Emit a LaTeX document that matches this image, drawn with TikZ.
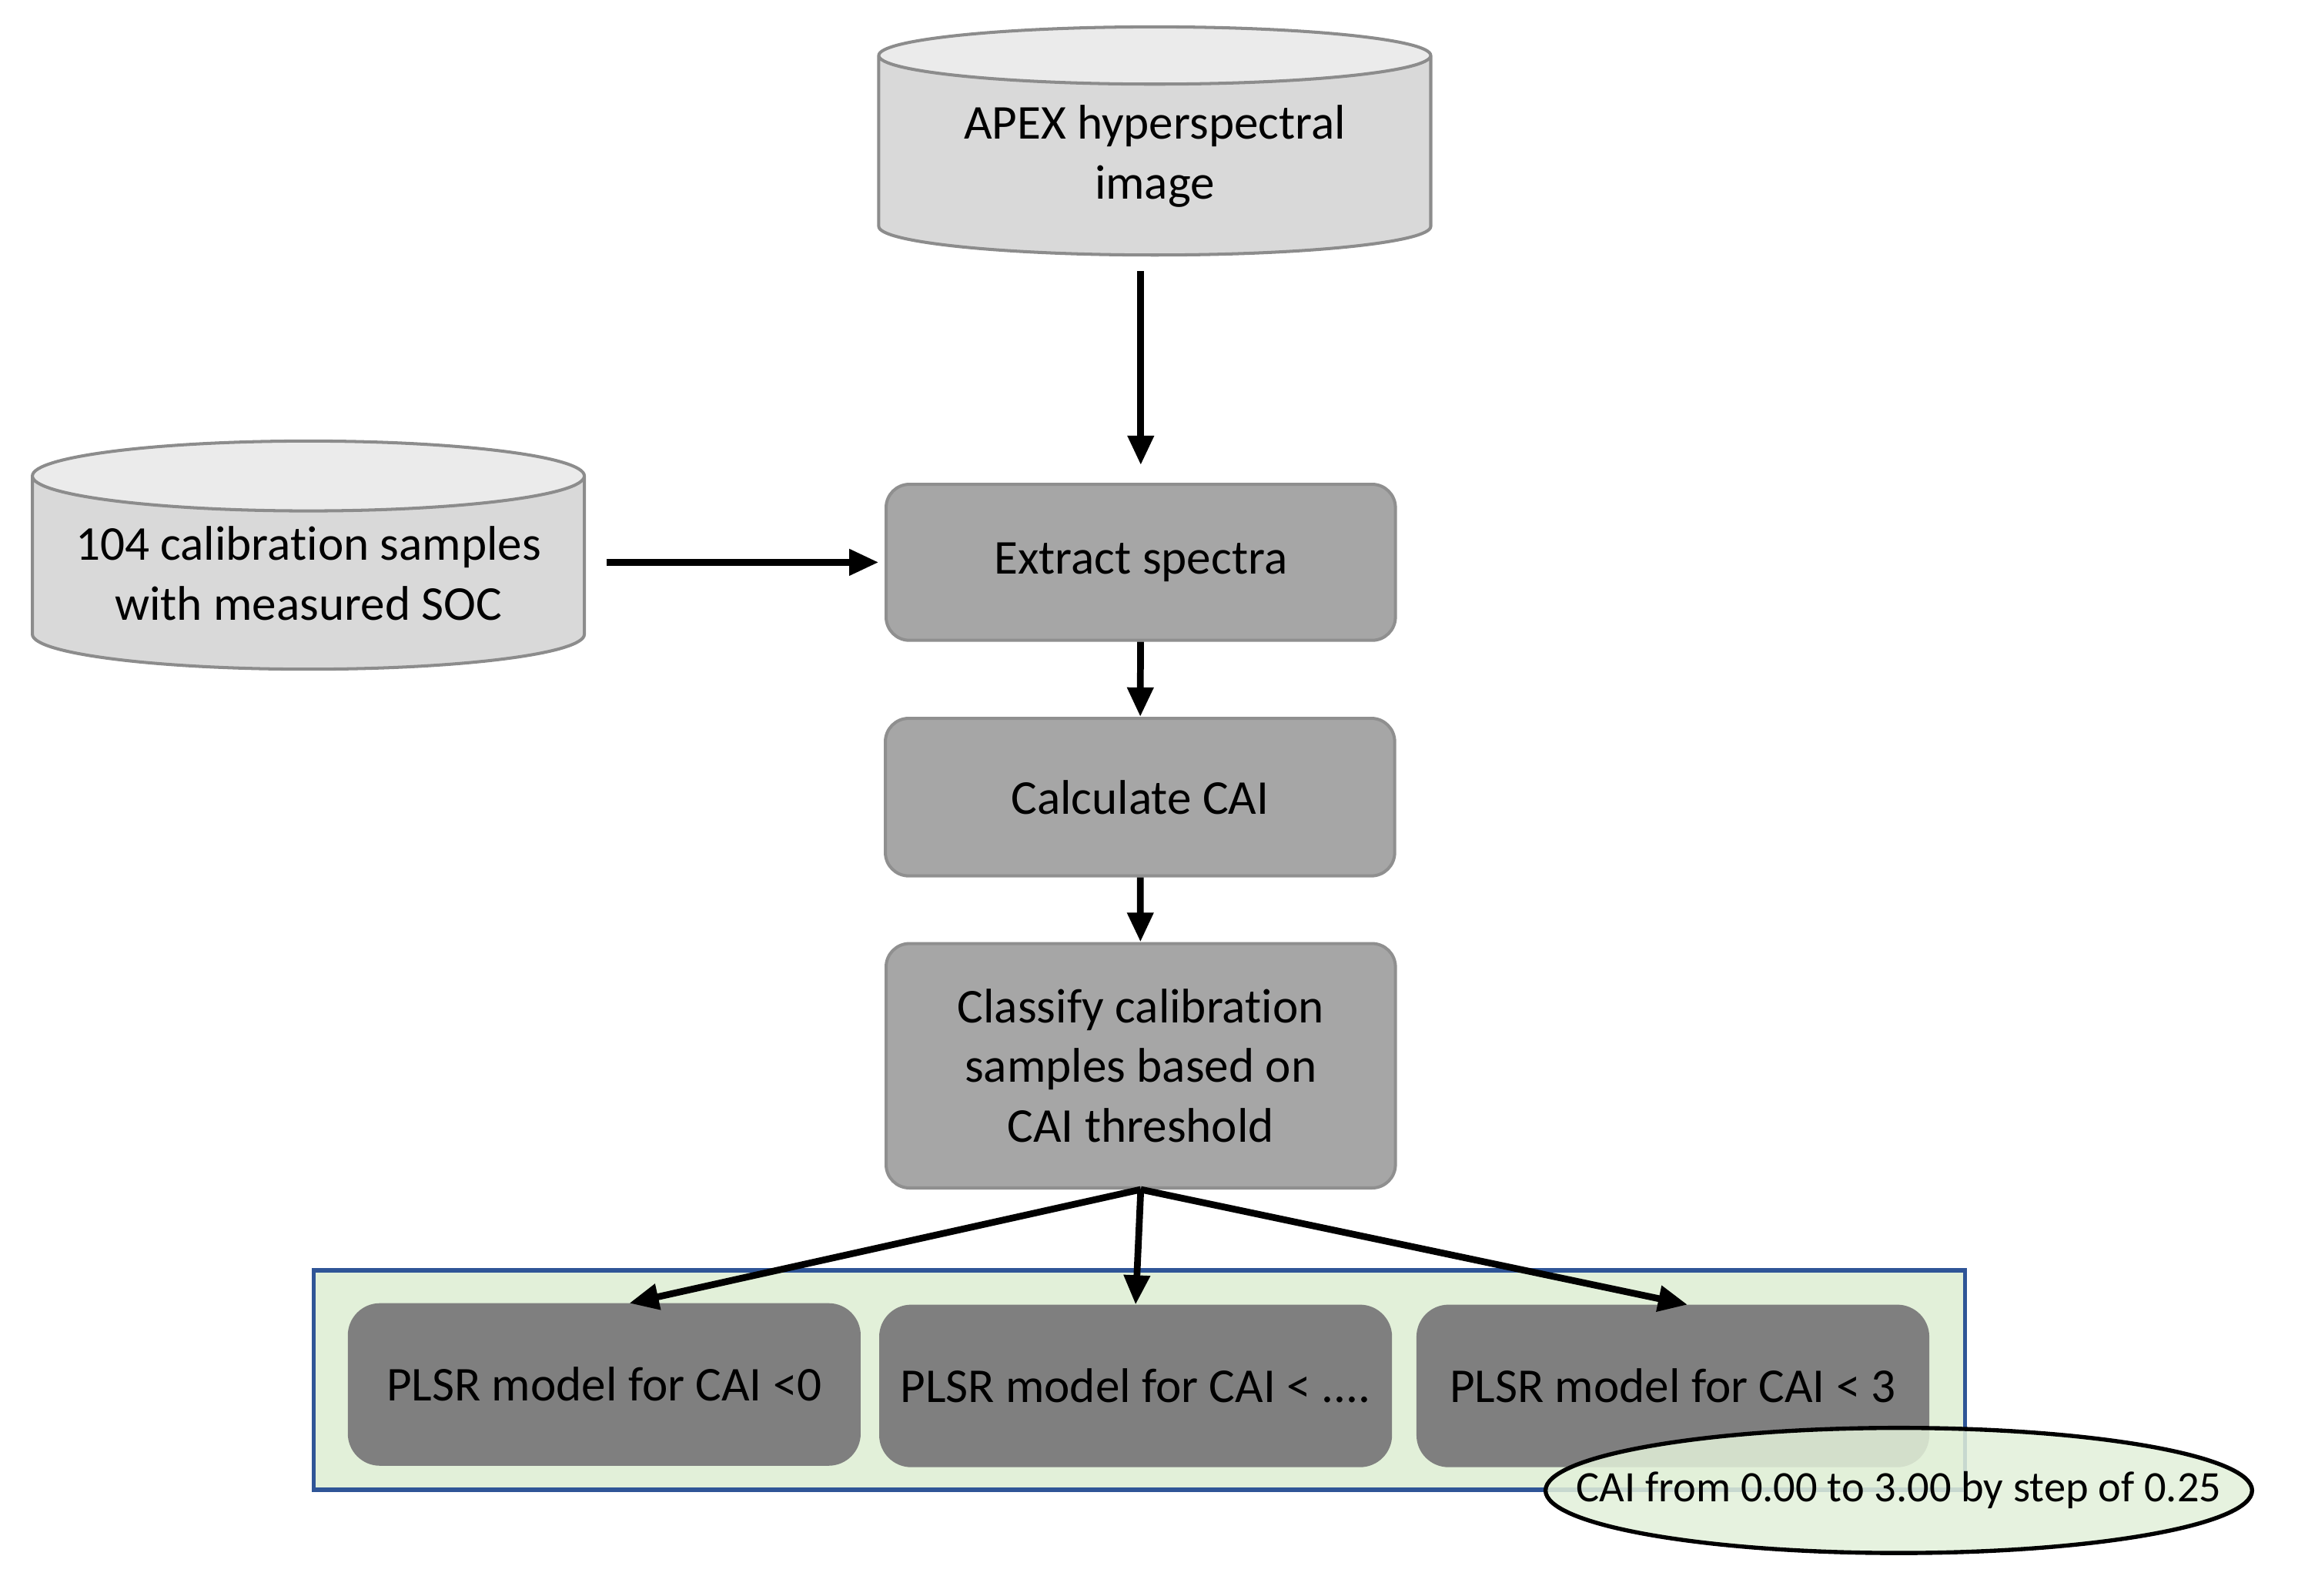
\documentclass[tikz,border=0pt]{standalone}
\usepackage{fontspec}
\setmainfont{Carlito}[Ligatures=NoCommon]
\usepackage{tikz}
\usetikzlibrary{arrows.meta,positioning,shapes.geometric}
\definecolor{cylbody}{RGB}{217,217,217}
\definecolor{cyltop}{RGB}{235,235,235}
\definecolor{cyledge}{RGB}{140,140,140}
\definecolor{boxlight}{RGB}{166,166,166}
\definecolor{boxdark}{RGB}{127,127,127}
\definecolor{edgegray}{RGB}{143,143,143}
\definecolor{palegreen}{RGB}{226,240,217}
\definecolor{frameblue}{RGB}{47,85,151}

\begin{document}
\begin{tikzpicture}[
  every node/.style={font=\fontsize{9.4}{11.6}\selectfont, align=center},
  datacyl/.style={cylinder, shape border rotate=90, aspect=0.15,
               draw=cyledge, line width=0.6pt,
               cylinder uses custom fill, cylinder body fill=cylbody, cylinder end fill=cyltop,
               minimum width=3.75cm, minimum height=1.55cm, inner sep=0pt},
  stepbox/.style={rounded corners=4.5pt, draw=edgegray, fill=boxlight, line width=0.6pt,
               minimum width=3.46cm, minimum height=1.06cm},
  modelbox/.style={rounded corners=6pt, draw=boxdark, fill=boxdark,
               minimum width=3.47cm, minimum height=1.09cm},
  arr/.style={-{Triangle[length=2mm, width=1.7mm]}, line width=1.3pt, black}]
\useasboundingbox (0,0) rectangle (15.68,-10.842);
\node[datacyl] (apex) at (7.845,-1.06) {APEX hyperspectral\\image};
\node[datacyl] (samples) at (2.095,-3.895) {104 calibration samples\\with measured SOC};
\node[stepbox] (extract) at (7.75,-3.82) {Extract spectra};
\node[stepbox, minimum height=1.07cm] (calc) at (7.745,-5.415) {Calculate CAI};
\node[stepbox, minimum height=1.66cm] (classify) at (7.75,-7.24) {Classify calibration\\samples based on\\CAI threshold};
% group of models
\node[draw=frameblue, fill=palegreen, line width=0.8pt, minimum width=11.22cm,
      minimum height=1.49cm, inner sep=0pt] (group) at (7.74,-9.375) {};
\node[modelbox] (m1) at (4.105,-9.405) {PLSR model for CAI <0};
\node[modelbox] (m2) at (7.715,-9.415) {PLSR model for CAI < ....};
\node[modelbox] (m3) at (11.365,-9.415) {PLSR model for CAI < 3};
\node[ellipse, draw=black, line width=0.8pt, fill=palegreen, fill opacity=0.85, text opacity=1,
      minimum width=4.8cm, minimum height=0.85cm, inner xsep=-0.52cm, inner ysep=0pt,
      font=\fontsize{8.4}{10}\selectfont] (range) at (12.9,-10.125) {CAI from 0.00 to 3.00 by step of 0.25};
\draw[arr, shorten <=1mm, shorten >=1.2mm] (extract.north |- apex.south) -- (extract.north);
\draw[arr, shorten <=1.4mm, shorten >=0.4mm] (samples.east |- extract.west) -- (extract.west);
\draw[arr] (extract) -- (calc);
\draw[arr] (calc) -- (classify);
\draw[arr] (classify.south) -- ([xshift=1.7mm]m1.north);
\draw[arr] (classify.south) -- (m2.north);
\draw[arr] (classify.south) -- ([xshift=1mm]m3.north);
\end{tikzpicture}
\end{document}
